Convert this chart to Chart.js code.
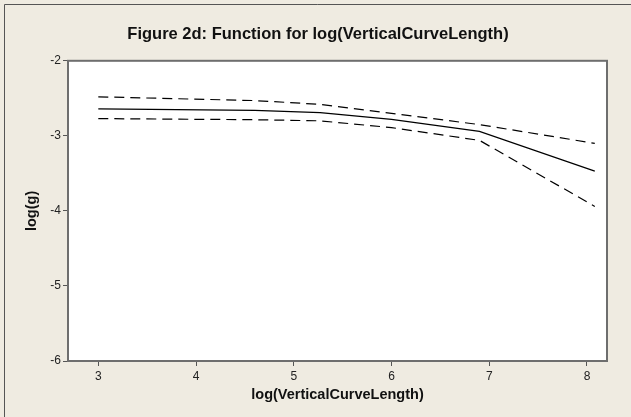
<!DOCTYPE html>
<html>
<head>
<meta charset="utf-8">
<script src="https://cdn.jsdelivr.net/npm/chart.js@4.4.1/dist/chart.umd.min.js"></script>
<style>
  html, body { margin: 0; padding: 0; background: #EFEBE1; }
  #wrap { width: 631px; height: 417px; }
</style>
</head>
<body>
<div id="wrap"><canvas id="c" width="631" height="417"></canvas></div>
<script>
// Data
const xValues = [3, 4.6, 5.27, 6.0, 6.9, 8.08];
const fitValues = [-2.64, -2.66, -2.69, -2.78, -2.94, -3.47];
const upperValues = [-2.48, -2.53, -2.58, -2.70, -2.85, -3.10];
const lowerValues = [-2.77, -2.785, -2.80, -2.89, -3.06, -3.94];
const xTicks = [3, 4, 5, 6, 7, 8];
const yTicks = [-6, -5, -4, -3, -2];

const toPts = (ys) => ys.map((y, i) => ({ x: xValues[i], y: y }));

const bgPlugin = {
  id: 'bg',
  beforeDraw(chart) {
    const ctx = chart.ctx;
    ctx.save();
    ctx.fillStyle = '#EFEBE1';
    ctx.fillRect(0, 0, chart.width, chart.height);
    ctx.strokeStyle = '#555555';
    ctx.lineWidth = 1;
    ctx.beginPath();
    ctx.moveTo(4.5, chart.height);
    ctx.lineTo(4.5, 4.5);
    ctx.lineTo(chart.width, 4.5);
    ctx.stroke();
    const a = chart.chartArea;
    ctx.fillStyle = '#FFFFFF';
    ctx.fillRect(a.left, a.top, a.right - a.left, a.bottom - a.top);
    ctx.restore();
  },
  afterDraw(chart) {
    const ctx = chart.ctx;
    const a = chart.chartArea;
    ctx.save();
    ctx.strokeStyle = '#6E6E6E';
    ctx.lineWidth = 2;
    ctx.strokeRect(a.left, a.top, a.right - a.left, a.bottom - a.top);
    ctx.restore();
  }
};

const FONT = "'Liberation Sans', Arial, sans-serif";

new Chart(document.getElementById('c'), {
  type: 'line',
  data: {
    datasets: [
      { label: 'fit', data: toPts(fitValues), borderColor: '#000', borderWidth: 1.2, pointRadius: 0, tension: 0, fill: false },
      { label: 'upper', data: toPts(upperValues), borderColor: '#000', borderWidth: 1.2, borderDash: [10, 6], pointRadius: 0, tension: 0, fill: false },
      { label: 'lower', data: toPts(lowerValues), borderColor: '#000', borderWidth: 1.2, borderDash: [10, 6], pointRadius: 0, tension: 0, fill: false }
    ]
  },
  options: {
    responsive: false,
    animation: false,
    devicePixelRatio: 1,
    layout: { padding: { left: 29, right: 24, top: 0, bottom: 0 } },
    plugins: {
      legend: { display: false },
      tooltip: { enabled: false },
      title: {
        display: true,
        text: 'Figure 2d: Function for log(VerticalCurveLength)',
        color: '#111',
        font: { family: FONT, size: 16.5, weight: 'bold', lineHeight: 1.2 },
        padding: { top: 25, bottom: 16 }
      }
    },
    scales: {
      x: {
        type: 'linear',
        min: 2.69,
        max: 8.205,
        afterBuildTicks: (s) => { s.ticks = xTicks.map(v => ({ value: v })); },
        afterFit: (s) => { s.height = 56; },
        grid: { display: true, drawOnChartArea: false, drawTicks: true, tickLength: 5, color: '#555', lineWidth: 1 },
        border: { display: true, color: '#6E6E6E', width: 2 },
        ticks: { color: '#222', font: { family: FONT, size: 12 }, padding: 3, maxRotation: 0 },
        title: { display: true, text: 'log(VerticalCurveLength)', color: '#111', font: { family: FONT, size: 14.5, weight: 'bold', lineHeight: 1.2 }, padding: { top: 0, bottom: 13 } }
      },
      y: {
        type: 'linear',
        min: -6,
        max: -2,
        afterBuildTicks: (s) => { s.ticks = yTicks.map(v => ({ value: v })); },
        afterFit: (s) => { s.width = 39; },
        grid: { display: true, drawOnChartArea: false, drawTicks: true, tickLength: 5, color: '#555', lineWidth: 1 },
        border: { display: true, color: '#6E6E6E', width: 2 },
        ticks: { color: '#222', font: { family: FONT, size: 12 }, padding: 2 },
        title: { display: true, text: 'log(g)', color: '#111', font: { family: FONT, size: 14.5, weight: 'bold', lineHeight: 1.2 }, padding: { top: -6, bottom: 0 } }
      }
    }
  },
  plugins: [bgPlugin]
});
</script>
</body>
</html>
